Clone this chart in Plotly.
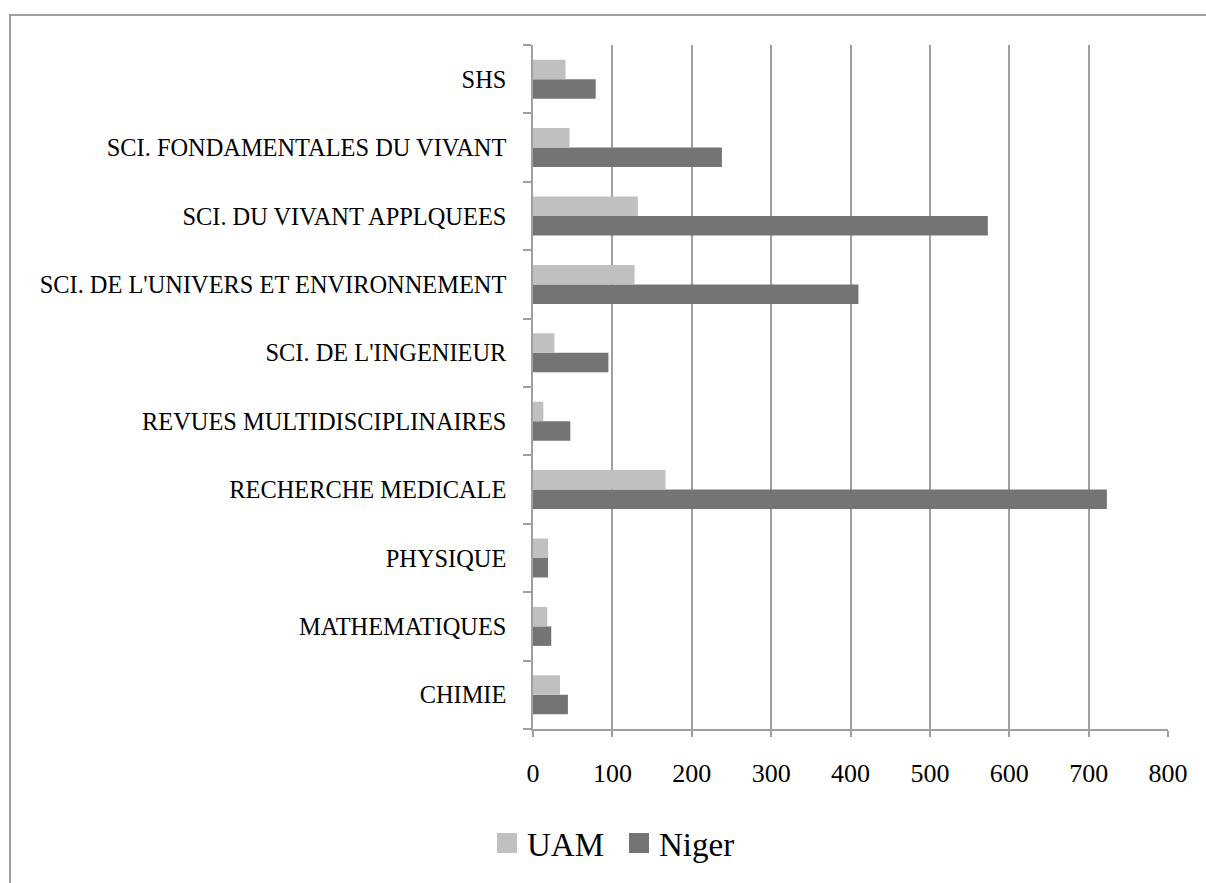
import plotly.graph_objects as go

# Subject areas, listed bottom to top
categories = [
    "CHIMIE",
    "MATHEMATIQUES",
    "PHYSIQUE",
    "RECHERCHE MEDICALE",
    "REVUES MULTIDISCIPLINAIRES",
    "SCI. DE L'INGENIEUR",
    "SCI. DE L'UNIVERS ET ENVIRONNEMENT",
    "SCI. DU VIVANT APPLQUEES",
    "SCI. FONDAMENTALES DU VIVANT",
    "SHS",
]
uam = [34, 18, 19, 167, 13, 27, 128, 132, 46, 41]
niger = [44, 23, 19, 723, 47, 95, 410, 573, 238, 79]

series_names = ["UAM", "Niger"]
series_colors = ["#c0c0c0", "#747474"]

x_ticks = [0, 100, 200, 300, 400, 500, 600, 700, 800]

W, H = 1206, 883
L, R, T, B = 533, 38, 45, 154
pw, ph = W - L - R, H - T - B


def px_x(p):
    return (p - L) / pw


def px_y(p):
    return (H - B - p) / ph


FONT = "Liberation Serif"
GRID = "#a0a0a0"

fig = go.Figure()
# Niger goes first so that UAM sits above it in each group
fig.add_trace(go.Bar(y=categories, x=niger, orientation="h", name=series_names[1],
                     marker=dict(color=series_colors[1], line=dict(width=0)),
                     showlegend=False))
fig.add_trace(go.Bar(y=categories, x=uam, orientation="h", name=series_names[0],
                     marker=dict(color=series_colors[0], line=dict(width=0)),
                     showlegend=False))

shapes = [
    # outer frame of the chart
    dict(type="rect", xref="paper", yref="paper",
         x0=px_x(10), x1=px_x(W + 50), y0=px_y(15), y1=px_y(H + 50),
         line=dict(color=GRID, width=2), fillcolor="rgba(0,0,0,0)", layer="below"),
]
annotations = []

# legend drawn as swatches with labels
legend_items = [(series_names[0], series_colors[0], 497), (series_names[1], series_colors[1], 629)]
for name, color, x0 in legend_items:
    shapes.append(dict(type="rect", xref="paper", yref="paper",
                       x0=px_x(x0), x1=px_x(x0 + 20), y0=px_y(853), y1=px_y(833),
                       line=dict(width=0), fillcolor=color))
    annotations.append(dict(xref="paper", yref="paper", x=px_x(x0 + 28), y=px_y(845),
                            xanchor="left", yanchor="middle", text=name, showarrow=False,
                            font=dict(family=FONT, size=33, color="black")))

fig.update_layout(
    width=W, height=H,
    margin=dict(l=L, r=R, t=T, b=B, pad=0),
    paper_bgcolor="white", plot_bgcolor="white",
    barmode="group", bargap=0.43, bargroupgap=0,
    shapes=shapes, annotations=annotations,
    font=dict(family=FONT, color="black"),
    xaxis=dict(
        range=[0, 800], tickvals=x_ticks, ticktext=[str(v) for v in x_ticks],
        showgrid=True, gridcolor=GRID, gridwidth=1.5,
        showline=True, linecolor=GRID, linewidth=1.5,
        ticks="outside", ticklen=6, tickcolor=GRID, tickwidth=1.5,
        tickfont=dict(family=FONT, size=26, color="black"),
        ticklabelstandoff=14, zeroline=False, fixedrange=True,
    ),
    yaxis=dict(
        type="category", categoryorder="array", categoryarray=categories,
        showgrid=False, showline=True, linecolor=GRID, linewidth=1.5,
        ticks="outside", ticklen=8, tickcolor=GRID, tickwidth=1.5,
        tickson="boundaries",
        tickfont=dict(family=FONT, size=24.4, color="black"),
        ticklabelstandoff=20, fixedrange=True,
    ),
)

fig.write_html("out.html")
